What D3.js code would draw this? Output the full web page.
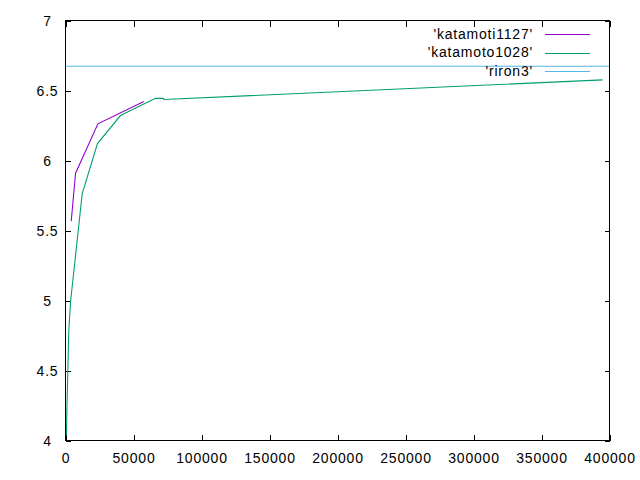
<!DOCTYPE html>
<html>
<head>
<meta charset="utf-8">
<script src="https://cdn.jsdelivr.net/npm/d3@7"></script>
<style>
  html, body { margin: 0; padding: 0; background: #fff; }
  svg { display: block; }
  text { font-family: "Liberation Sans", Arial, sans-serif; font-size: 14px; letter-spacing: 0.8px; fill: #000; }
</style>
</head>
<body>
<svg id="chart" width="640" height="480"></svg>
<script>
// ---- data ----
const katamoti1127X = [4200, 7400, 23800, 57600];
const katamoti1127Y = [5.566, 5.909, 6.262, 6.421];

const katamoto1028X = [700, 960, 2430, 3700, 12300, 23500, 40400, 66200, 72000, 72300, 395000];
const katamoto1028Y = [4.036, 4.19, 4.786, 4.99, 5.764, 6.121, 6.321, 6.444, 6.444, 6.436, 6.576];

const riron3X = [0, 400000];
const riron3Y = [6.673, 6.673];

const xTicks = [0, 50000, 100000, 150000, 200000, 250000, 300000, 350000, 400000];
const yTicks = [4, 4.5, 5, 5.5, 6, 6.5, 7];

const seriesNames = ["'katamoti1127'", "'katamoto1028'", "'riron3'"];
const seriesColors = ["#9400d3", "#009e73", "#56b4e9"];

// ---- layout ----
const L = 65.5, R = 609.5, T = 20.5, B = 440.5;
const svg = d3.select("#chart");
const x = d3.scaleLinear().domain([0, 400000]).range([L, R]);
const y = d3.scaleLinear().domain([4, 7]).range([B, T]);

// frame
svg.append("rect").attr("x", L).attr("y", T).attr("width", R - L).attr("height", B - T)
  .attr("fill", "none").attr("stroke", "#000").attr("stroke-width", 1).attr("shape-rendering", "crispEdges");

// axes with inward ticks (bottom + mirrored top)
const fmt = d3.format("d");
const xAxisB = d3.axisBottom(x).tickValues(xTicks).tickSize(-6).tickFormat(fmt);
const gxb = svg.append("g").attr("transform", `translate(0,${B})`).call(xAxisB);
const xAxisT = d3.axisTop(x).tickValues(xTicks).tickSize(-6).tickFormat("");
const gxt = svg.append("g").attr("transform", `translate(0,${T})`).call(xAxisT);
const yAxisL = d3.axisLeft(y).tickValues(yTicks).tickSize(-5).tickFormat(d3.format("~g"));
const gyl = svg.append("g").attr("transform", `translate(${L},0)`).call(yAxisL);
const yAxisR = d3.axisRight(y).tickValues(yTicks).tickSize(-5).tickFormat("");
const gyr = svg.append("g").attr("transform", `translate(${R},0)`).call(yAxisR);

[gxb, gxt, gyl, gyr].forEach(g => {
  g.select(".domain").remove();
  g.selectAll("line").attr("stroke", "#000").attr("shape-rendering", "crispEdges");
  g.selectAll("text").attr("font-family", null).attr("font-size", null);
});
gxb.selectAll("text").attr("dy", null).attr("y", 22);
gyl.selectAll("text").attr("text-anchor", "middle").attr("x", -18).attr("dy", "0.35em");

// clip
svg.append("clipPath").attr("id", "clip").append("rect")
  .attr("x", L).attr("y", T).attr("width", R - L).attr("height", B - T);

const line = d3.line().x(d => x(d[0])).y(d => y(d[1]));
const series = [
  d3.zip(katamoti1127X, katamoti1127Y),
  d3.zip(katamoto1028X, katamoto1028Y),
  d3.zip(riron3X, riron3Y)
];
const plot = svg.append("g").attr("clip-path", "url(#clip)");
series.forEach((s, i) => {
  plot.append("path").datum(s).attr("d", line)
    .attr("fill", "none").attr("stroke", seriesColors[i]).attr("stroke-width", 1.1);
});

// legend
const legY = [34, 52.5, 71];
const leg = svg.append("g");
seriesNames.forEach((n, i) => {
  leg.append("text").attr("x", 533).attr("y", legY[i]).attr("dy", "0.35em")
    .attr("text-anchor", "end").text(n);
  leg.append("line").attr("x1", 545).attr("x2", 590).attr("y1", legY[i] + 0.5).attr("y2", legY[i] + 0.5)
    .attr("stroke", seriesColors[i]).attr("stroke-width", 1).attr("shape-rendering", "crispEdges");
});
</script>
</body>
</html>
